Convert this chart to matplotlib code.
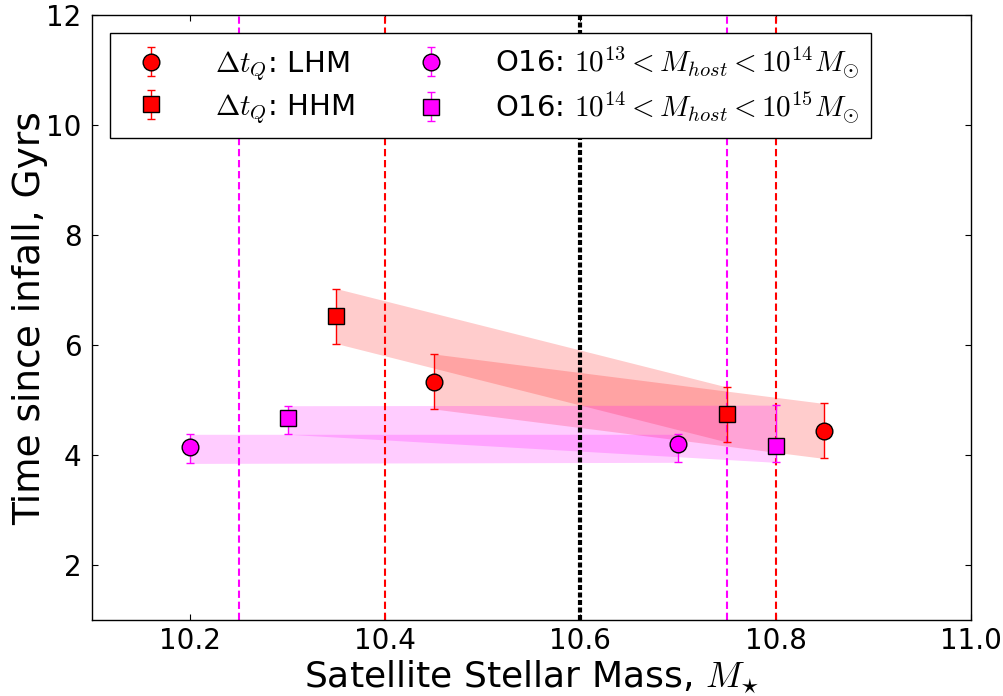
import matplotlib
matplotlib.use("Agg")
from matplotlib import pyplot as plt
import numpy as np

plt.rcParams['mathtext.fontset'] = 'cm'
plt.rcParams['font.family'] = 'DejaVu Sans'

# quenching timescales, low / high host mass
lhm_x = [10.45, 10.85]
lhm_y = [5.34, 4.44]
lhm_err = [0.5, 0.5]

hhm_x = [10.35, 10.75]
hhm_y = [6.53, 4.74]
hhm_err = [0.5, 0.5]

# O16 comparison values, given as (value, lower bound, upper bound)
o16a_x = [10.2, 10.7]
o16a_y = [4.15, 4.21]
o16a_lo = [3.85, 3.87]
o16a_hi = [4.38, 4.38]

o16b_x = [10.3, 10.8]
o16b_y = [4.67, 4.17]
o16b_lo = [4.38, 3.87]
o16b_hi = [4.90, 4.91]

# mass cuts
magenta_cuts = [10.25, 10.75]
red_cuts = [10.4, 10.8]
mid_cut = 10.6

fig = plt.figure(figsize=(10.04, 6.96), dpi=100)
ax = fig.add_axes([0.092, 0.109, 0.875, 0.869])

def band(x, lo, hi, c):
    ax.fill_between(x, lo, hi, color=c, alpha=0.2, lw=0, zorder=1)

lhm_y = np.array(lhm_y); hhm_y = np.array(hhm_y)
band(lhm_x, lhm_y - lhm_err, lhm_y + lhm_err, 'red')
band(hhm_x, hhm_y - hhm_err, hhm_y + hhm_err, 'red')
band(o16a_x, o16a_lo, o16a_hi, 'magenta')
band(o16b_x, o16b_lo, o16b_hi, 'magenta')

for c in magenta_cuts:
    ax.axvline(c, color='magenta', lw=1.5, ls=(0, (3.5, 1.8)), zorder=2)
for c in red_cuts:
    ax.axvline(c, color='red', lw=1.5, ls=(0, (3.5, 1.8)), zorder=2)
ax.axvline(mid_cut, color='black', lw=3, ls=(0, (1.2, 0.6)), zorder=2)

kw = dict(ls='none', ms=12, mec='black', mew=1, capsize=3, elinewidth=1, zorder=3)
ax.errorbar(lhm_x, lhm_y, yerr=lhm_err, fmt='o', color='red', ecolor='red',
            label=r'$\Delta t_Q$: LHM', **kw)
ax.errorbar(hhm_x, hhm_y, yerr=hhm_err, fmt='s', color='red', ecolor='red',
            label=r'$\Delta t_Q$: HHM', **kw)
yerr_a = [np.array(o16a_y) - o16a_lo, np.array(o16a_hi) - o16a_y]
yerr_b = [np.array(o16b_y) - o16b_lo, np.array(o16b_hi) - o16b_y]
ax.errorbar(o16a_x, o16a_y, yerr=yerr_a, fmt='o', color='magenta', ecolor='magenta',
            label=r'O16: $10^{13}<M_{host}<10^{14}M_{\odot}$', **kw)
ax.errorbar(o16b_x, o16b_y, yerr=yerr_b, fmt='s', color='magenta', ecolor='magenta',
            label=r'O16: $10^{14}<M_{host}<10^{15}M_{\odot}$', **kw)

ax.set_xlim(10.1, 11.0)
ax.set_ylim(1, 12)
ax.set_xticks(np.arange(10.2, 11.01, 0.2))
ax.set_yticks(np.arange(2, 12.1, 2))
ax.tick_params(direction='in', top=True, right=True, labelsize=20, length=4)
ax.tick_params(axis='x', pad=5)
ax.tick_params(axis='y', pad=8)
for s in ax.spines.values():
    s.set_linewidth(1)

ax.set_xlabel(r'Satellite Stellar Mass, $M_{\star}$', fontsize=26, labelpad=3)
ax.set_ylabel('Time since infall, Gyrs', fontsize=27)
ax.yaxis.set_label_coords(-0.05, 0.5)

leg = ax.legend(loc='upper left', ncol=2, fontsize=21, numpoints=1, fancybox=False,
                edgecolor='black', framealpha=1, borderaxespad=0.6,
                columnspacing=1.6, handletextpad=1.2, labelspacing=0.3,
                borderpad=0.4)
leg.get_frame().set_linewidth(1)

fig.savefig('out.png', dpi=100)
